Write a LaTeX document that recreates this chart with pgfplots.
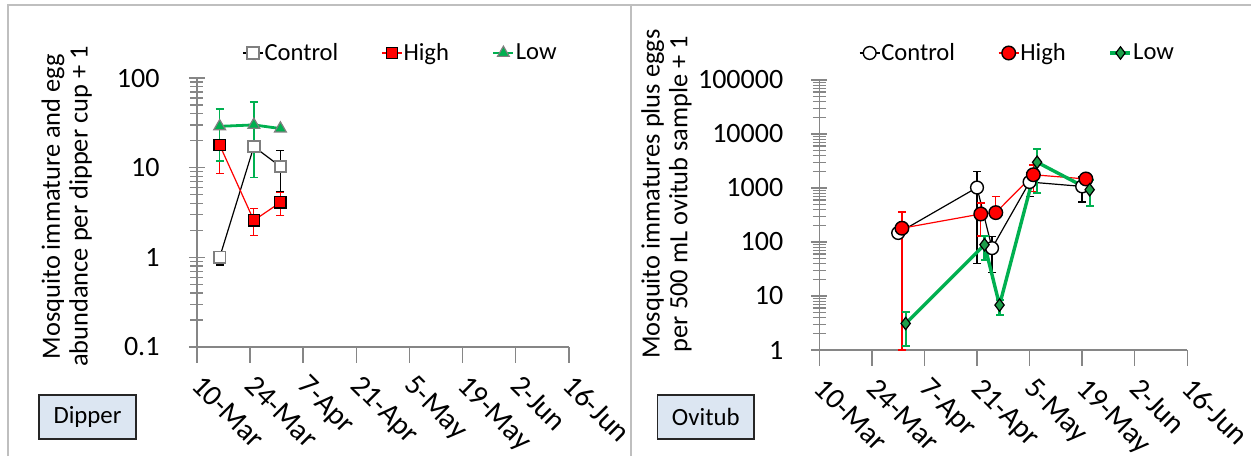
\documentclass[border=0pt]{standalone}
\usepackage{fontspec}
\setmainfont{Carlito}
\usepackage{pgfplots}
\pgfplotsset{compat=1.18}
\definecolor{xlgreen}{HTML}{00B050}
\definecolor{dgreen}{HTML}{1E9E4A}
\definecolor{axgray}{HTML}{868686}
\definecolor{frgray}{HTML}{BFBFBF}
\definecolor{mkgray}{HTML}{7F7F7F}
\definecolor{boxblue}{HTML}{DCE6F2}
\pgfplotsset{
  legend image code/.code={\draw[mark repeat=2,mark phase=2,#1] plot coordinates {(0pt,0pt) (5pt,0pt) (10pt,0pt)};},
}
\pgfplotsset{
 panel/.style={
  scale only axis,
  xmin=0, xmax=98,
  axis x line*=bottom, axis y line*=left,
  axis line style={axgray, line width=0.8pt, -},
  xtick={0,14,...,98},
  xticklabels={10-Mar,24-Mar,7-Apr,21-Apr,5-May,19-May,2-Jun,16-Jun},
  xticklabel style={font=\fontsize{14.8}{16}\selectfont, inner sep=0pt, xshift=3.5pt, yshift=-9pt, rotate=-45, anchor=north west},
  yticklabel style={font=\fontsize{14}{16}\selectfont, inner sep=0pt, anchor=east},
  tick style={axgray, line width=0.7pt},
  xtick style={yshift=-4pt},
  tick align=center,
  major tick length=8pt, minor tick length=6.5pt,
  clip=false,
  legend columns=3,
  legend style={draw=none, fill=none, font=\fontsize{12.3}{14}\selectfont, anchor=west, inner sep=0pt,
     nodes={inner xsep=0.5pt},
     /tikz/every even column/.append style={column sep=21pt}},
  ylabel style={font=\fontsize{13.2}{13.9}\selectfont, align=center, anchor=center, rotate=0},
 },
}
\begin{document}
\begin{tikzpicture}
\useasboundingbox (0pt,0pt) rectangle (625.5pt,228pt);
\draw[frgray, line width=1pt] (4pt,0pt) -- (4pt,225.5pt) -- (625.5pt,225.5pt);
\draw[frgray, line width=1pt] (315.3pt,0pt) -- (315.3pt,225.5pt);
% ---------------- Dipper ----------------
\begin{axis}[panel, ymode=log,
  at={(98.45pt,54.5pt)}, anchor=south west,
  width=186pt, height=134.5pt,
  ymin=0.1, ymax=100,
  ytick={0.1,1,10,100}, yticklabels={0.1,1,10,100},
  yticklabel style={xshift=-14.5pt},
  ylabel={Mosquito immature and egg\\abundance per dipper cup + 1},
  ylabel style={at={(axis description cs:-0.350,0.522)}},
  legend style={at={(axis description cs:0.121,1.093)}},
]
\addplot[black, line width=0.6pt, mark=square*, mark size=2.9pt,
  mark options={fill=white, draw=mkgray, line width=0.9pt},
  error bars/.cd, y dir=both, y explicit,
  error bar style={black, line width=0.7pt},
  error mark options={rotate=90, mark size=2pt, black, line width=0.7pt}] coordinates {
  (6,1.0) += (0,0) -= (0,0.18)
  (15,17.2) += (0,0) -= (0,0)
  (22,10.3) += (0,5.2) -= (0,4.9)
};
\addlegendentry{Control}
\addplot[red, line width=0.6pt, mark=square*, mark size=2.8pt,
  mark options={fill=red, draw=black, line width=0.6pt},
  error bars/.cd, y dir=both, y explicit,
  error bar style={red, line width=0.6pt},
  error mark options={rotate=90, mark size=2pt, red, line width=0.6pt}] coordinates {
  (6,17.9) +- (0,9.2)
  (15,2.58) += (0,0.92) -= (0,0.83)
  (22,4.1) +- (0,1.2)
};
\addlegendentry{High}
\addplot[xlgreen, line width=1.4pt, mark=triangle*, mark size=3.4pt,
  mark options={fill=xlgreen, draw=mkgray, line width=0.6pt},
  error bars/.cd, y dir=both, y explicit,
  error bar style={xlgreen, line width=0.8pt},
  error mark options={rotate=90, mark size=2pt, xlgreen, line width=0.8pt}] coordinates {
  (6,28.9) += (0,16) -= (0,17)
  (15,30) += (0,23.7) -= (0,22.2)
  (22,27.3) +- (0,0)
};
\addlegendentry{Low}
\end{axis}
\draw[black!85, fill=boxblue, line width=0.7pt] (19.5pt,8.5pt) rectangle (68pt,30.5pt);
\node[font=\fontsize{12.4}{14}\selectfont] at (43.75pt,19.5pt) {Dipper};
% ---------------- Ovitub ----------------
\begin{axis}[panel, ymode=log,
  at={(409.65pt,53pt)}, anchor=south west,
  width=184pt, height=135pt,
  ymin=1, ymax=100000,
  ytick={1,10,100,1000,10000,100000}, yticklabels={1,10,100,1000,10000,100000},
  yticklabel style={xshift=-13.85pt},
  ylabel={Mosquito immatures plus eggs\\per 500 mL ovitub sample + 1},
  ylabel style={at={(axis description cs:-0.4153,0.578)}},
  legend style={at={(axis description cs:0.107,1.1)}},
]
\addplot[black, line width=0.6pt, mark=*, mark size=3.2pt,
  mark options={fill=white, draw=black, line width=0.7pt},
  error bars/.cd, y dir=both, y explicit,
  error bar style={black, line width=0.7pt},
  error mark options={rotate=90, mark size=2pt, black, line width=0.7pt}] coordinates {
  (21,147) +- (0,0)
  (42,1020) +- (0,980)
  (46,77) +- (0,50)
  (56,1290) +- (0,590)
  (70,1070) +- (0,520)
};
\addlegendentry{Control}
\addplot[red, line width=0.6pt, mark=*, mark size=3.4pt,
  mark options={fill=red, draw=black, line width=0.7pt},
  error bars/.cd, y dir=both, y explicit,
  error bar style={red, line width=0.7pt},
  error mark options={rotate=90, mark size=2pt, red, line width=0.7pt}] coordinates {
  (22,180) +- (0,179)
  (43,330) +- (0,200)
  (47,350) += (0,350) -= (0,0)
  (57,1760) +- (0,900)
  (71,1470) +- (0,100)
};
\addlegendentry{High}
\addplot[xlgreen, line width=1.7pt, mark=diamond*, mark size=3.1pt,
  mark options={fill=dgreen, draw=black, line width=0.6pt},
  error bars/.cd, y dir=both, y explicit,
  error bar style={xlgreen, line width=1.1pt},
  error mark options={rotate=90, mark size=2pt, xlgreen, line width=1.1pt}] coordinates {
  (23,3.1) += (0,2) -= (0,1.9)
  (44,89) +- (0,42)
  (48,6.8) += (0,1.7) -= (0,2.4)
  (58,3000) +- (0,2200)
  (72,930) +- (0,460)
};
\addlegendentry{Low}
\end{axis}
\draw[black!85, fill=boxblue, line width=0.7pt] (328.85pt,8.5pt) rectangle (377pt,30.5pt);
\node[font=\fontsize{12.4}{14}\selectfont] at (352.9pt,19.5pt) {Ovitub};
\end{tikzpicture}
\end{document}
